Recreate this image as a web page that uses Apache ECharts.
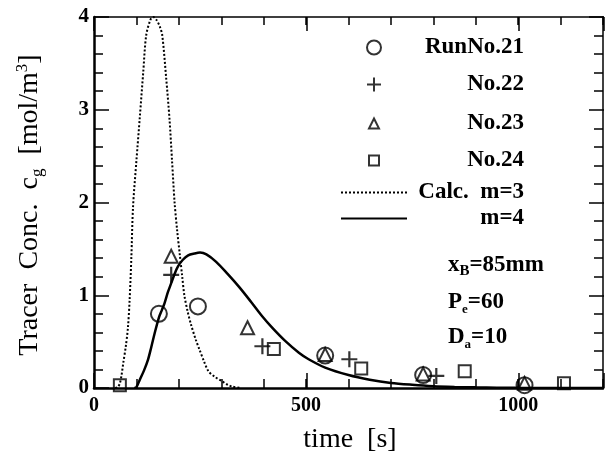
<!DOCTYPE html>
<html>
<head>
<meta charset="utf-8">
<script src="https://cdn.jsdelivr.net/npm/echarts@6/dist/echarts.min.js"></script>
<style>
  html, body { margin: 0; padding: 0; background: #ffffff; }
  #chart { width: 606px; height: 462px; }
</style>
</head>
<body>
<div id="chart"></div>
<script>
// Measured tracer concentrations, time [s] vs c_g [mol/m3]
const run21Time = [153, 245, 545, 776, 1015];
const run21Conc = [0.80, 0.88, 0.35, 0.14, 0.03];

const run22Time = [182, 397, 602, 807];
const run22Conc = [1.22, 0.45, 0.31, 0.13];

const run23Time = [182, 362, 545, 776, 1015];
const run23Conc = [1.42, 0.65, 0.36, 0.15, 0.05];

const run24Time = [61, 424, 630, 874, 1108];
const run24Conc = [0.03, 0.42, 0.21, 0.18, 0.05];

// Calculated response, m = 3
const calc3Time = [50, 56, 61, 65, 69, 75, 80, 84, 88, 92, 100, 108, 116, 123, 133, 140, 147, 155, 161, 170, 178, 184, 190, 196, 202, 208, 213, 221, 229, 240, 249, 260, 270, 285, 303, 315, 326, 345];
const calc3Conc = [0, 0.01, 0.05, 0.14, 0.27, 0.45, 0.65, 0.95, 1.4, 1.95, 2.45, 2.92, 3.4, 3.8, 3.97, 4.0, 3.97, 3.9, 3.8, 3.35, 2.9, 2.45, 2.0, 1.7, 1.45, 1.2, 1.0, 0.82, 0.68, 0.52, 0.41, 0.28, 0.18, 0.12, 0.07, 0.035, 0.015, 0];

// Calculated response, m = 4
const calc4Time = [95, 100, 108, 118, 127, 135, 143, 153, 160, 166, 174, 182, 190, 198, 209, 222, 237, 250, 265, 288, 315, 342, 370, 397, 420, 450, 483, 506, 545, 600, 650, 700, 750, 800, 850, 900, 1000, 1200];
const calc4Conc = [0, 0.01, 0.09, 0.19, 0.30, 0.44, 0.59, 0.76, 0.84, 0.91, 1.03, 1.13, 1.23, 1.31, 1.38, 1.43, 1.45, 1.46, 1.44, 1.36, 1.23, 1.09, 0.93, 0.77, 0.65, 0.51, 0.38, 0.31, 0.22, 0.14, 0.09, 0.055, 0.035, 0.02, 0.012, 0.007, 0.002, 0];

const seriesNames = ['RunNo.21', 'No.22', 'No.23', 'No.24', 'Calc.  m=3', 'm=4'];
const xTickLabels = [0, 500, 1000];
const yTickLabels = [0, 1, 2, 3, 4];

const pairs = (xs, ys) => xs.map((x, i) => [x, ys[i]]);

const SERIF = "'Liberation Serif', 'DejaVu Serif', serif";
const BLACK = '#000000';
const CLEAR = 'rgba(0,0,0,0)';
const hollow = { color: CLEAR, borderColor: BLACK, borderWidth: 2 };
const PLUS = 'path://M0,6L12,6M6,0L6,12';

// Legend layout: symbol column centred at x = 373, text right edge at x = 523
const LEG_SYMBOL_X = 373;
const LEG_TEXT_RIGHT = 523;
const LEG_LINE_LEFT = 340;
const LEG_LINE_W = 66;

function legendText(width) {
  return {
    rich: {
      t: {
        width: width, align: 'right', lineHeight: 24,
        fontFamily: SERIF, fontWeight: 'bold', fontSize: 23, color: BLACK
      }
    }
  };
}

function symbolRow(name, centerY, size) {
  const left = LEG_SYMBOL_X - size / 2;
  return {
    data: [name], left: left, top: centerY - 12, padding: 0,
    itemWidth: size, itemHeight: size, itemGap: 0, selectedMode: false,
    formatter: '{t|{name}}',
    textStyle: legendText(LEG_TEXT_RIGHT - (left + size + 5))
  };
}

function lineRow(name, centerY) {
  return {
    data: [name], left: LEG_LINE_LEFT, top: centerY - 12, padding: 0,
    itemWidth: LEG_LINE_W, itemHeight: 12, itemGap: 0, selectedMode: false,
    itemStyle: { opacity: 0 },
    formatter: '{t|{name}}',
    textStyle: legendText(LEG_TEXT_RIGHT - (LEG_LINE_LEFT + LEG_LINE_W + 5))
  };
}

const tickLine = { color: BLACK, width: 1.5 };
const labelFont = { fontFamily: SERIF, fontWeight: 'bold', color: BLACK };
const noZero = w => ({ onZero: false, lineStyle: { color: BLACK, width: w } });

const option = {
  animation: false,
  backgroundColor: '#ffffff',
  grid: [
    { left: 94, top: 17, width: 510, height: 371, containLabel: false },
    { left: 94, top: 17, width: 510, height: 371, containLabel: false }
  ],
  xAxis: [
    {
      gridIndex: 0, type: 'value', position: 'bottom', min: 0, max: 1200, interval: 100,
      axisLine: noZero(2.5),
      axisTick: { inside: true, length: 9, lineStyle: tickLine },
      axisLabel: Object.assign({
        fontSize: 20, margin: 8,
        formatter: v => (xTickLabels.indexOf(v) >= 0 ? String(v) : '')
      }, labelFont),
      splitLine: { show: false }
    },
    {
      gridIndex: 0, type: 'value', position: 'top', min: 0, max: 1200, interval: 100,
      axisLine: noZero(1.5),
      axisTick: { inside: true, length: 8, lineStyle: tickLine },
      axisLabel: { show: false },
      splitLine: { show: false }
    },
    {
      gridIndex: 1, type: 'value', position: 'bottom', min: 0, max: 1200, interval: 500,
      axisLine: { show: false, onZero: false },
      axisTick: { inside: true, length: 15, lineStyle: tickLine },
      axisLabel: { show: false },
      splitLine: { show: false }
    },
    {
      gridIndex: 1, type: 'value', position: 'top', min: 0, max: 1200, interval: 500,
      axisLine: { show: false, onZero: false },
      axisTick: { inside: true, length: 14, lineStyle: tickLine },
      axisLabel: { show: false },
      splitLine: { show: false }
    }
  ],
  yAxis: [
    {
      gridIndex: 0, type: 'value', position: 'left', min: 0, max: 4, interval: 0.2,
      axisLine: noZero(2.5),
      axisTick: { inside: true, length: 9, lineStyle: tickLine },
      axisLabel: Object.assign({
        fontSize: 21, margin: 5,
        formatter: v => (yTickLabels.indexOf(Math.round(v * 1000) / 1000) >= 0 ? String(Math.round(v)) : '')
      }, labelFont),
      splitLine: { show: false }
    },
    {
      gridIndex: 0, type: 'value', position: 'right', min: 0, max: 4, interval: 0.2,
      axisLine: noZero(1.5),
      axisTick: { inside: true, length: 9, lineStyle: tickLine },
      axisLabel: { show: false },
      splitLine: { show: false }
    },
    {
      gridIndex: 1, type: 'value', position: 'left', min: 0, max: 4, interval: 1,
      axisLine: { show: false, onZero: false },
      axisTick: { inside: true, length: 15, lineStyle: tickLine },
      axisLabel: { show: false },
      splitLine: { show: false }
    },
    {
      gridIndex: 1, type: 'value', position: 'right', min: 0, max: 4, interval: 1,
      axisLine: { show: false, onZero: false },
      axisTick: { inside: true, length: 15, lineStyle: tickLine },
      axisLabel: { show: false },
      splitLine: { show: false }
    }
  ],
  legend: [
    symbolRow(seriesNames[0], 48, 14),
    symbolRow(seriesNames[1], 85, 14),
    symbolRow(seriesNames[2], 124, 10),
    symbolRow(seriesNames[3], 161, 10),
    lineRow(seriesNames[4], 193),
    lineRow(seriesNames[5], 219)
  ],
  series: [
    {
      name: seriesNames[4], type: 'line', xAxisIndex: 0, yAxisIndex: 0,
      data: pairs(calc3Time, calc3Conc),
      symbol: 'none', showSymbol: false, smooth: 0.3, z: 2,
      lineStyle: { color: BLACK, width: 2, type: [2, 2] },
      itemStyle: { color: CLEAR }
    },
    {
      name: seriesNames[5], type: 'line', xAxisIndex: 0, yAxisIndex: 0,
      data: pairs(calc4Time, calc4Conc),
      symbol: 'none', showSymbol: false, smooth: 0.3, z: 2,
      lineStyle: { color: BLACK, width: 2.5 },
      itemStyle: { color: CLEAR }
    },
    {
      name: seriesNames[0], type: 'scatter', xAxisIndex: 0, yAxisIndex: 0,
      data: pairs(run21Time, run21Conc),
      symbol: 'circle', symbolSize: 16, z: 3, itemStyle: hollow
    },
    {
      name: seriesNames[1], type: 'scatter', xAxisIndex: 0, yAxisIndex: 0,
      data: pairs(run22Time, run22Conc),
      symbol: PLUS, symbolSize: 16, z: 3,
      itemStyle: { color: CLEAR, borderColor: BLACK, borderWidth: 2.2 }
    },
    {
      name: seriesNames[2], type: 'scatter', xAxisIndex: 0, yAxisIndex: 0,
      data: pairs(run23Time, run23Conc),
      symbol: 'triangle', symbolSize: 13, z: 3, itemStyle: hollow
    },
    {
      name: seriesNames[3], type: 'scatter', xAxisIndex: 0, yAxisIndex: 0,
      data: pairs(run24Time, run24Conc),
      symbol: 'rect', symbolSize: 12, z: 3, itemStyle: hollow
    }
  ],
  graphic: [
    {
      type: 'text', x: 30, y: 205, rotation: Math.PI / 2,
      style: {
        text: '{a|Tracer  Conc.  c}{s|g}{a|  [mol/m}{p|3}{a|]}',
        align: 'center', verticalAlign: 'middle',
        rich: {
          a: { fontFamily: SERIF, fontSize: 28, color: BLACK, lineHeight: 32 },
          s: { fontFamily: SERIF, fontSize: 17, color: BLACK, lineHeight: 17, verticalAlign: 'bottom' },
          p: { fontFamily: SERIF, fontSize: 17, color: BLACK, lineHeight: 17, verticalAlign: 'top' }
        }
      }
    },
    {
      type: 'text', x: 350, y: 440,
      style: {
        text: 'time  [s]', align: 'center', verticalAlign: 'middle',
        fontFamily: SERIF, fontSize: 28, fill: BLACK
      }
    },
    {
      type: 'text', x: 448, y: 265,
      style: {
        text: '{a|x}{s|B}{a|=85mm}', align: 'left', verticalAlign: 'middle',
        rich: {
          a: { fontFamily: SERIF, fontWeight: 'bold', fontSize: 23, color: BLACK, lineHeight: 28 },
          s: { fontFamily: SERIF, fontWeight: 'bold', fontSize: 15, color: BLACK, lineHeight: 15, verticalAlign: 'bottom' }
        }
      }
    },
    {
      type: 'text', x: 448, y: 302,
      style: {
        text: '{a|P}{s|e}{a|=60}', align: 'left', verticalAlign: 'middle',
        rich: {
          a: { fontFamily: SERIF, fontWeight: 'bold', fontSize: 23, color: BLACK, lineHeight: 28 },
          s: { fontFamily: SERIF, fontWeight: 'bold', fontSize: 13, color: BLACK, lineHeight: 15, verticalAlign: 'bottom' }
        }
      }
    },
    {
      type: 'text', x: 448, y: 337,
      style: {
        text: '{a|D}{s|a}{a|=10}', align: 'left', verticalAlign: 'middle',
        rich: {
          a: { fontFamily: SERIF, fontWeight: 'bold', fontSize: 23, color: BLACK, lineHeight: 28 },
          s: { fontFamily: SERIF, fontWeight: 'bold', fontSize: 13, color: BLACK, lineHeight: 15, verticalAlign: 'bottom' }
        }
      }
    }
  ]
};

const chart = echarts.init(document.getElementById('chart'), null, { renderer: 'canvas' });
chart.setOption(option);
</script>
</body>
</html>
